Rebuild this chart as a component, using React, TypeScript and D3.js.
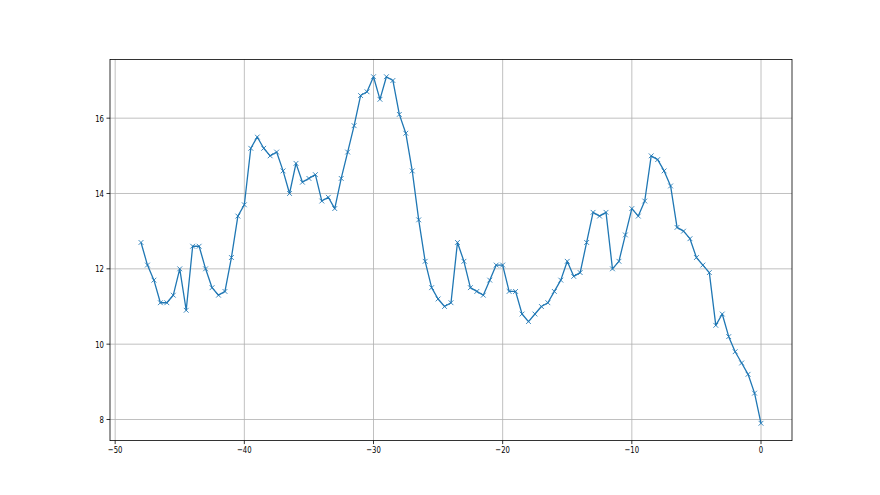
import React from "react";
import * as d3 from "d3";

const xValues: number[] = [
  -48, -47.5, -47, -46.5, -46, -45.5, -45, -44.5, -44, -43.5, -43, -42.5, -42, -41.5, -41, -40.5,
  -40, -39.5, -39, -38.5, -38, -37.5, -37, -36.5, -36, -35.5, -35, -34.5, -34, -33.5, -33, -32.5,
  -32, -31.5, -31, -30.5, -30, -29.5, -29, -28.5, -28, -27.5, -27, -26.5, -26, -25.5, -25, -24.5,
  -24, -23.5, -23, -22.5, -22, -21.5, -21, -20.5, -20, -19.5, -19, -18.5, -18, -17.5, -17, -16.5,
  -16, -15.5, -15, -14.5, -14, -13.5, -13, -12.5, -12, -11.5, -11, -10.5, -10, -9.5, -9, -8.5,
  -8, -7.5, -7, -6.5, -6, -5.5, -5, -4.5, -4, -3.5, -3, -2.5, -2, -1.5, -1, -0.5, 0,
];

const yValues: number[] = [
  12.7, 12.1, 11.7, 11.1, 11.1, 11.3, 12.0, 10.9, 12.6, 12.6, 12.0, 11.5, 11.3, 11.4, 12.3, 13.4,
  13.7, 15.2, 15.5, 15.2, 15.0, 15.1, 14.6, 14.0, 14.8, 14.3, 14.4, 14.5, 13.8, 13.9, 13.6, 14.4,
  15.1, 15.8, 16.6, 16.7, 17.1, 16.5, 17.1, 17.0, 16.1, 15.6, 14.6, 13.3, 12.2, 11.5, 11.2, 11.0,
  11.1, 12.7, 12.2, 11.5, 11.4, 11.3, 11.7, 12.1, 12.1, 11.4, 11.4, 10.8, 10.6, 10.8, 11.0, 11.1,
  11.4, 11.7, 12.2, 11.8, 11.9, 12.7, 13.5, 13.4, 13.5, 12.0, 12.2, 12.9, 13.6, 13.4, 13.8, 15.0,
  14.9, 14.6, 14.2, 13.1, 13.0, 12.8, 12.3, 12.1, 11.9, 10.5, 10.8, 10.2, 9.8, 9.5, 9.2, 8.7, 7.9,
];

const xTicks: number[] = [-50, -40, -30, -20, -10, 0];
const yTicks: number[] = [8, 10, 12, 14, 16];

const W = 880;
const H = 495;
const left = 110;
const right = 792;
const top = 59.4;
const bottom = 440.6;
const color = "#1f77b4";
const sx = 0.72;

function pad(ext: [number, number]): [number, number] {
  const r = ext[1] - ext[0];
  return [ext[0] - 0.05 * r, ext[1] + 0.05 * r];
}

const fmt = (v: number) => (v < 0 ? "\u2212" + Math.abs(v) : String(v));

export default function App() {
  const data = xValues.map((x, i) => ({ x, y: yValues[i] }));
  const x = d3.scaleLinear().domain(pad(d3.extent(xValues) as [number, number])).range([left, right]);
  const y = d3.scaleLinear().domain(pad(d3.extent(yValues) as [number, number])).range([bottom, top]);
  const line = d3
    .line<{ x: number; y: number }>()
    .x((d) => x(d.x))
    .y((d) => y(d.y));
  const m = 2.4;
  return (
    <svg
      width={W}
      height={H}
      style={{ position: "absolute", left: 0, top: 0, background: "#fff" }}
      fontFamily="DejaVu Sans, sans-serif"
    >
      <rect x={0} y={0} width={W} height={H} fill="#fff" />
      {xTicks.map((t) => (
        <line key={"gx" + t} x1={x(t)} x2={x(t)} y1={top} y2={bottom} stroke="#b0b0b0" strokeWidth={0.8} />
      ))}
      {yTicks.map((t) => (
        <line key={"gy" + t} x1={left} x2={right} y1={y(t)} y2={y(t)} stroke="#b0b0b0" strokeWidth={0.8} />
      ))}
      <path d={line(data) || ""} fill="none" stroke={color} strokeWidth={1.3} strokeLinejoin="round" />
      {data.map((d, i) => (
        <g key={"m" + i} stroke={color} strokeWidth={1} strokeOpacity={0.85}>
          <line x1={x(d.x) - m} x2={x(d.x) + m} y1={y(d.y) - m} y2={y(d.y) + m} />
          <line x1={x(d.x) - m} x2={x(d.x) + m} y1={y(d.y) + m} y2={y(d.y) - m} />
        </g>
      ))}
      <rect x={left} y={top} width={right - left} height={bottom - top} fill="none" stroke="#000" strokeWidth={0.8} />
      {xTicks.map((t) => (
        <g key={"tx" + t}>
          <line x1={x(t)} x2={x(t)} y1={bottom} y2={bottom + 3.5} stroke="#000" strokeWidth={0.8} />
          <text
            transform={`translate(${x(t)},${bottom + 5.5}) scale(${sx},1)`}
            dy="0.76em"
            fontSize={9.6}
            textAnchor="middle"
            fill="#000"
          >
            {fmt(t)}
          </text>
        </g>
      ))}
      {yTicks.map((t) => (
        <g key={"ty" + t}>
          <line x1={left - 3.5} x2={left} y1={y(t)} y2={y(t)} stroke="#000" strokeWidth={0.8} />
          <text
            transform={`translate(${left - 6},${y(t)}) scale(${sx},1)`}
            dy="0.35em"
            fontSize={9.6}
            textAnchor="end"
            fill="#000"
          >
            {fmt(t)}
          </text>
        </g>
      ))}
    </svg>
  );
}
